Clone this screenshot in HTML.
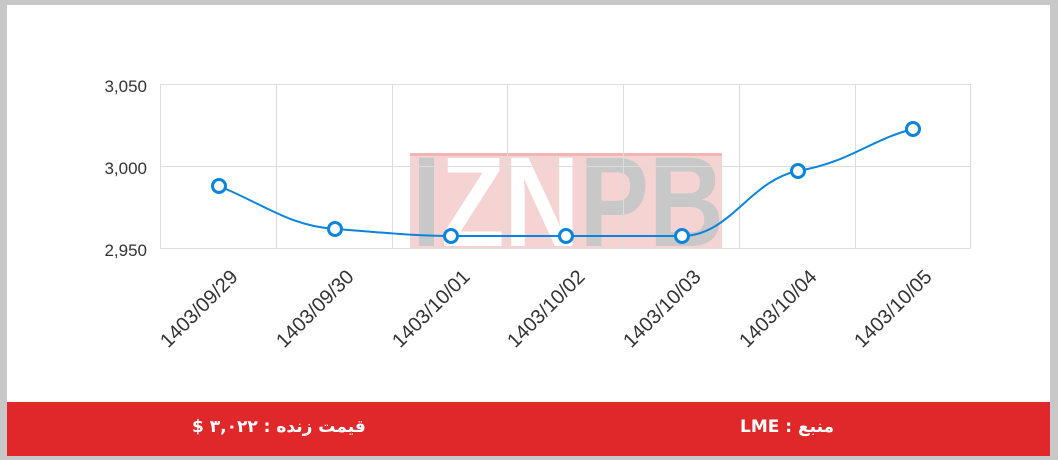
<!DOCTYPE html>
<html><head><meta charset="utf-8"><style>
html,body{margin:0;padding:0;width:1058px;height:460px;overflow:hidden;background:#c8c8c8;}
.card{position:absolute;left:7px;top:5px;width:1043px;height:451px;background:#fff;}
.band{position:absolute;left:7px;top:402px;width:1043px;height:54px;background:#e0282a;color:#fff;font-family:"DejaVu Sans",sans-serif;font-size:17px;font-weight:bold;}
.band span{position:absolute;top:15px;direction:rtl;}
</style></head><body>
<div class="card"></div>
<svg width="1058" height="460" style="position:absolute;left:0;top:0" font-family="Liberation Sans, sans-serif">
<rect x="410" y="153" width="312" height="96" fill="#f6d3d3"/>
<rect x="410" y="153" width="312" height="3" fill="#f2b5b5"/>
<text x="412" y="246" font-size="128" font-weight="bold" fill="#c8c8c8" textLength="312" lengthAdjust="spacingAndGlyphs">I<tspan fill="#fff">ZN</tspan>PB</text>
<g stroke="#dcdcdc" stroke-width="1">
<line x1="160" y1="84.5" x2="970" y2="84.5"/>
<line x1="160" y1="166.5" x2="970" y2="166.5"/>
<line x1="160" y1="248.5" x2="970" y2="248.5"/>
<line x1="160.5" y1="84" x2="160.5" y2="249"/>
<line x1="276.5" y1="84" x2="276.5" y2="249"/>
<line x1="392.5" y1="84" x2="392.5" y2="249"/>
<line x1="507.5" y1="84" x2="507.5" y2="249"/>
<line x1="623.5" y1="84" x2="623.5" y2="249"/>
<line x1="739.5" y1="84" x2="739.5" y2="249"/>
<line x1="855.5" y1="84" x2="855.5" y2="249"/>
<line x1="970.5" y1="84" x2="970.5" y2="249"/>
</g>
<g font-size="17" fill="#333" text-anchor="end">
<text x="147" y="92">3,050</text>
<text x="147" y="174">3,000</text>
<text x="147" y="256">2,950</text>
</g>
<g font-size="20" fill="#333" text-anchor="end">
<text transform="translate(239,278) rotate(-45)">1403/09/29</text>
<text transform="translate(355,278) rotate(-45)">1403/09/30</text>
<text transform="translate(471,278) rotate(-45)">1403/10/01</text>
<text transform="translate(586,278) rotate(-45)">1403/10/02</text>
<text transform="translate(702,278) rotate(-45)">1403/10/03</text>
<text transform="translate(818,278) rotate(-45)">1403/10/04</text>
<text transform="translate(933,278) rotate(-45)">1403/10/05</text>
</g>
<path d="M219,186 C265,205 290,226 335,229 C380,232 410,236 451,236 L682,236 C730,236 750,180 798,171 C850,162 870,140 913,129" fill="none" stroke="#0b84e0" stroke-width="2"/>
<g fill="#fff" stroke="#0b84e0" stroke-width="3">
<circle cx="219" cy="186" r="6.5"/><circle cx="335" cy="229" r="6.5"/><circle cx="451" cy="236" r="6.5"/>
<circle cx="566" cy="236" r="6.5"/><circle cx="682" cy="236" r="6.5"/><circle cx="798" cy="171" r="6.5"/><circle cx="913" cy="129" r="6.5"/>
</g>
</svg>
<div class="band"><span style="left:185px">قیمت زنده : ۳,۰۲۲ $</span><span style="left:733px">منبع : LME</span></div>
</body></html>
